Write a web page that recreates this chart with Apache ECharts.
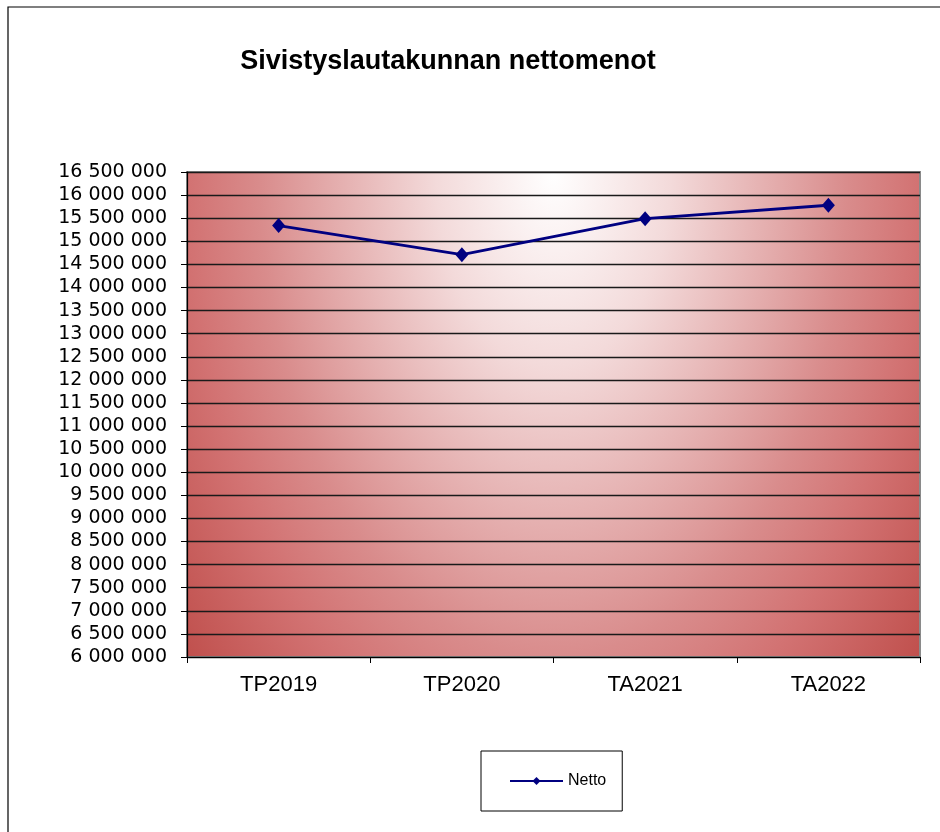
<!DOCTYPE html>
<html>
<head>
<meta charset="utf-8">
<script src="https://cdn.jsdelivr.net/npm/echarts@6/dist/echarts.min.js"></script>
<style>
  html, body { margin: 0; padding: 0; background: #fff; }
  #chart { width: 940px; height: 832px; }
</style>
</head>
<body>
<div id="chart"></div>
<script>
// data
var categories = ['TP2019', 'TP2020', 'TA2021', 'TA2022'];
var netto = [15340000, 14710000, 15490000, 15780000];
var yMin = 6000000;
var yMax = 16500000;
var yStep = 500000;

// plot area
var gLeft = 187, gRight = 20, gTop = 172, gBottom = 175;
var W = 940, H = 832;
var plotW = W - gLeft - gRight;
var plotH = H - gTop - gBottom;

function fmt(v) {
    return String(v).replace(/\B(?=(\d{3})+(?!\d))/g, ' ');
}

var chart = echarts.init(document.getElementById('chart'));
var option = {
    backgroundColor: '#fff',
    animation: false,
    textStyle: { fontFamily: 'Liberation Sans, Arial, sans-serif' },
    title: {
        text: 'Sivistyslautakunnan nettomenot',
        left: 443,
        top: 43,
        textAlign: 'center',
        textStyle: { fontSize: 27, fontWeight: 'bold', color: '#000', fontFamily: 'Liberation Sans, Arial, sans-serif' }
    },
    graphic: [{
        // outer chart frame
        type: 'rect',
        shape: { x: 8, y: 7, width: 1000, height: 900 },
        style: { fill: null, stroke: '#000', lineWidth: 1.2 },
        z: -1
    }, {
        // plot background, elliptical gradient from the top centre
        type: 'rect',
        x: gLeft,
        y: gTop,
        scaleX: plotW / 100,
        scaleY: plotH / 40,
        shape: { x: 0, y: 0, width: 100, height: 40 },
        style: {
            fill: {
                type: 'radial',
                x: 0.5, y: 0, r: 1.6,
                colorStops: [
                    { offset: 0, color: '#ffffff' },
                    { offset: 0.25, color: '#f3dada' },
                    { offset: 0.625, color: '#d98c8c' },
                    { offset: 0.78, color: '#d27272' },
                    { offset: 1, color: '#c0504d' }
                ]
            }
        },
        silent: true,
        z: -1
    }],
    legend: {
        left: 481,
        top: 751,
        padding: [22, 16, 22, 28],
        borderColor: '#000',
        borderWidth: 1,
        itemWidth: 53,
        itemHeight: 10,
        itemGap: 4,
        textStyle: { fontSize: 16, color: '#000' },
        data: ['Netto']
    },
    grid: {
        left: gLeft,
        right: gRight,
        top: gTop,
        bottom: gBottom,
        show: true,
        borderColor: '#8a8a8a',
        borderWidth: 2,
        backgroundColor: 'transparent'
    },
    xAxis: {
        type: 'category',
        data: categories,
        boundaryGap: true,
        axisLine: { lineStyle: { color: '#000', width: 1.2 } },
        axisTick: { show: true, length: 6, lineStyle: { color: '#000' } },
        axisLabel: { fontSize: 22, color: '#000', margin: 17 },
        splitLine: { show: false }
    },
    yAxis: {
        type: 'value',
        min: yMin,
        max: yMax,
        interval: yStep,
        axisLine: { show: true, lineStyle: { color: '#000', width: 1.2 } },
        axisTick: { show: true, length: 6, lineStyle: { color: '#000' } },
        axisLabel: { fontSize: 19, color: '#000', margin: 20, formatter: fmt, fontFamily: 'DejaVu Sans, sans-serif' },
        splitLine: { show: true, lineStyle: { color: '#1a1a1a', width: 1.4 } }
    },
    series: [{
        name: 'Netto',
        type: 'line',
        data: netto,
        symbol: 'diamond',
        symbolSize: [13, 15],
        itemStyle: { color: '#000080' },
        lineStyle: { color: '#000080', width: 2.8 }
    }]
};
chart.setOption(option);
</script>
</body>
</html>
